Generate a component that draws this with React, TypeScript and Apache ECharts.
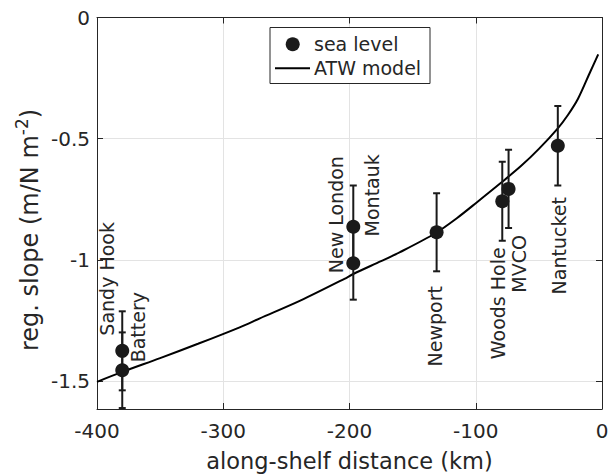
import React, { useEffect, useRef } from "react";
import * as echarts from "echarts";

// ATW model curve
const curveX = [-400, -380, -350, -320, -287, -271, -239, -204, -197, -175, -160, -132, -115, -99, -80, -64, -50, -35, -27, -19, -10, -3];
const curveY = [-1.503, -1.462, -1.405, -1.346, -1.278, -1.241, -1.168, -1.078, -1.058, -1.005, -0.968, -0.89, -0.828, -0.762, -0.682, -0.612, -0.542, -0.457, -0.402, -0.335, -0.232, -0.152];

// sea level stations
const stationNames = ["Sandy Hook", "Battery", "New London", "Montauk", "Newport", "Woods Hole", "MVCO", "Nantucket"];
const stationX = [-380, -380, -197, -197, -131, -79, -74, -35];
const stationY = [-1.375, -1.455, -0.863, -1.014, -0.886, -0.758, -0.707, -0.529];
const stationErr = [0.163, 0.156, 0.17, 0.15, 0.161, 0.163, 0.161, 0.164];

const yTicks = [-1.5, -1, -0.5, 0];

// label layout: pixel offsets of rotated label centre from the dot
const labelOffsets: [number, number][] = [
  [-15, -72],
  [16, -43],
  [-17, -12],
  [19, -68],
  [-2, 94],
  [-4, 102],
  [10, 75],
  [1, 100],
];

const FONT = "DejaVu Sans";
const INK = "#262626";

export default function App() {
  const ref = useRef<HTMLDivElement>(null);
  useEffect(() => {
    const chart = echarts.init(ref.current!, null, { renderer: "svg" });
    const axisCommon = {
      axisLine: { show: true, onZero: false, lineStyle: { color: INK, width: 1 } },
      axisTick: { show: true, inside: true, length: 6, lineStyle: { color: INK, width: 1 } },
    };
    const option: any = {
      animation: false,
      backgroundColor: "#fff",
      textStyle: { fontFamily: FONT },
      grid: { left: 97, right: 7, top: 17.5, bottom: 65, containLabel: false, outerBoundsMode: "none" },
      xAxis: [
        {
          type: "value",
          min: -400,
          max: 0,
          interval: 100,
          position: "bottom",
          ...axisCommon,
          axisLabel: { fontSize: 20, color: INK, margin: 12, fontFamily: FONT },
          splitLine: { show: true, lineStyle: { color: "#e3e3e3", width: 1 } },
          name: "along-shelf distance (km)",
          nameLocation: "middle",
          nameGap: 40,
          nameTextStyle: { fontSize: 22.5, color: INK, fontFamily: FONT },
        },
        {
          type: "value",
          min: -400,
          max: 0,
          interval: 100,
          position: "top",
          ...axisCommon,
          axisLabel: { show: false },
          splitLine: { show: false },
        },
      ],
      yAxis: [
        {
          type: "value",
          min: -1.615,
          max: 0,
          position: "left",
          ...axisCommon,
          axisTick: { ...axisCommon.axisTick, customValues: yTicks },
          axisLabel: {
            fontSize: 20,
            color: INK,
            margin: 7,
            fontFamily: FONT,
            customValues: yTicks,
            formatter: (v: number) => String(v),
          },
          splitLine: { show: true, customValues: yTicks, lineStyle: { color: "#e3e3e3", width: 1 } },
        },
        {
          type: "value",
          min: -1.615,
          max: 0,
          position: "right",
          ...axisCommon,
          axisTick: { ...axisCommon.axisTick, customValues: yTicks },
          axisLabel: { show: false, customValues: yTicks },
          splitLine: { show: false },
        },
      ],
      series: [
        {
          name: "ATW model",
          type: "line",
          data: curveX.map((x, i) => [x, curveY[i]]),
          showSymbol: false,
          smooth: 0.3,
          lineStyle: { color: "#000", width: 2 },
          z: 2,
        },
        {
          name: "error",
          type: "custom",
          clip: true,
          data: stationX.map((x, i) => [x, stationY[i] - stationErr[i], stationY[i] + stationErr[i]]),
          renderItem: (params: any, api: any) => {
            const x = api.value(0);
            const lo = api.coord([x, api.value(1)]);
            const hi = api.coord([x, api.value(2)]);
            const hw = 3.5;
            const style = { stroke: "#1a1a1a", lineWidth: 2 };
            return {
              type: "group",
              children: [
                { type: "line", shape: { x1: lo[0], y1: lo[1], x2: hi[0], y2: hi[1] }, style },
                { type: "line", shape: { x1: lo[0] - hw, y1: lo[1], x2: lo[0] + hw, y2: lo[1] }, style },
                { type: "line", shape: { x1: hi[0] - hw, y1: hi[1], x2: hi[0] + hw, y2: hi[1] }, style },
              ],
            };
          },
          z: 3,
        },
        {
          name: "sea level",
          type: "scatter",
          data: stationX.map((x, i) => [x, stationY[i]]),
          symbol: "circle",
          symbolSize: 14,
          itemStyle: { color: "#1a1a1a", opacity: 1 },
          z: 4,
        },
        {
          name: "labels",
          type: "custom",
          clip: false,
          data: stationX.map((x, i) => [x, stationY[i], i]),
          renderItem: (params: any, api: any) => {
            const i = api.value(2);
            const p = api.coord([api.value(0), api.value(1)]);
            const off = labelOffsets[i];
            return {
              type: "text",
              x: p[0] + off[0],
              y: p[1] + off[1],
              rotation: Math.PI / 2,
              style: {
                text: stationNames[i],
                fontSize: 19,
                fontFamily: FONT,
                fill: INK,
                align: "center",
                verticalAlign: "middle",
              },
            };
          },
          z: 5,
        },
      ],
      graphic: [
        {
          type: "text",
          x: 30,
          y: 230,
          rotation: Math.PI / 2,
          style: {
            text: "{a|reg. slope (m/N m}{sup|-2}{a|)}",
            fontFamily: FONT,
            fill: INK,
            align: "center",
            verticalAlign: "middle",
            rich: {
              a: { fontSize: 24, fontFamily: FONT, fill: INK, lineHeight: 34, verticalAlign: "middle" },
              sup: { fontSize: 17, fontFamily: FONT, fill: INK, lineHeight: 17, verticalAlign: "top" },
            },
          },
          z: 11,
        },
        {
          type: "rect",
          shape: { x: 270, y: 27.5, width: 160, height: 56 },
          style: { fill: "#fff", stroke: INK, lineWidth: 1 },
          z: 10,
        },
        { type: "circle", shape: { cx: 292.7, cy: 44.3, r: 7 }, style: { fill: "#1a1a1a" }, z: 11 },
        {
          type: "line",
          shape: { x1: 275, y1: 68.3, x2: 310, y2: 68.3 },
          style: { stroke: "#000", lineWidth: 2 },
          z: 11,
        },
        {
          type: "text",
          x: 314,
          y: 44.3,
          style: { text: "sea level", fontSize: 19, fontFamily: FONT, fill: INK, verticalAlign: "middle" },
          z: 11,
        },
        {
          type: "text",
          x: 314,
          y: 68.3,
          style: { text: "ATW model", fontSize: 19, fontFamily: FONT, fill: INK, verticalAlign: "middle" },
          z: 11,
        },
      ],
    };
    chart.setOption(option);
    return () => chart.dispose();
  }, []);
  return <div ref={ref} style={{ position: "absolute", left: 0, top: 0, width: 609, height: 474 }} />;
}
